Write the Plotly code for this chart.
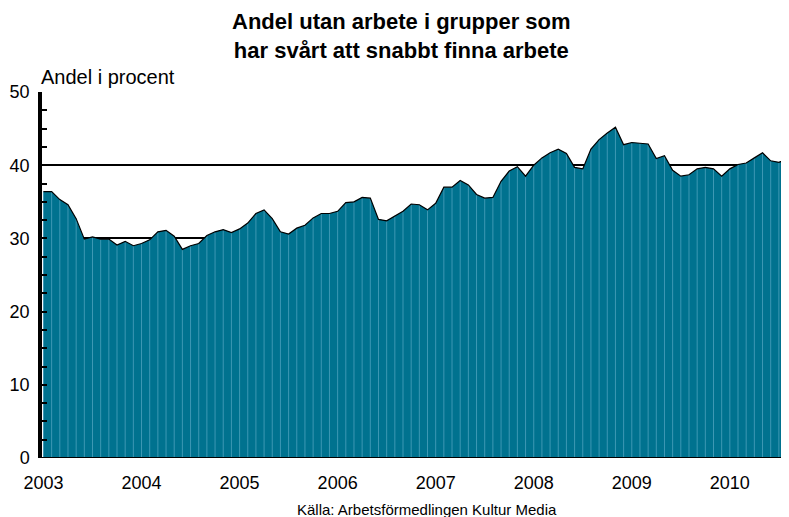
import plotly.graph_objects as go

# Monthly share (%), Jan 2003 - Aug 2010
values = [
    36.4, 36.4, 35.3, 34.6, 32.7, 29.9, 30.2, 29.9, 29.9, 29.1, 29.6, 29.0,
    29.3, 29.8, 30.9, 31.1, 30.3, 28.5, 29.0, 29.3, 30.4, 30.9, 31.2, 30.8,
    31.3, 32.1, 33.4, 33.9, 32.7, 30.9, 30.6, 31.4, 31.8, 32.8, 33.4, 33.4,
    33.7, 34.9, 35.0, 35.6, 35.5, 32.6, 32.4, 33.1, 33.7, 34.7, 34.6, 33.9,
    34.8, 37.0, 37.0, 37.9, 37.3, 36.0, 35.5, 35.6, 37.8, 39.2, 39.8, 38.5,
    40.0, 41.0, 41.7, 42.2, 41.6, 39.7, 39.5, 42.2, 43.5, 44.4, 45.2, 42.8,
    43.1, 43.0, 42.9, 40.9, 41.3, 39.3, 38.5, 38.7, 39.5, 39.7, 39.5, 38.5,
    39.5, 40.1, 40.3, 41.0, 41.7, 40.6, 40.4, 40.8,
]
months = list(range(len(values)))
year_labels = ["2003", "2004", "2005", "2006", "2007", "2008", "2009", "2010"]
year_ticks = [12 * k for k in range(len(year_labels))]
y_ticks = [0, 10, 20, 30, 40, 50]

title_text = "Andel utan arbete i grupper som<br>har svårt att snabbt finna arbete"
y_title = "Andel i procent"
source = "Källa: Arbetsförmedlingen Kultur Media"

FILL = "#00728f"
STRIPE = "#3d98b4"
FONT = "Liberation Sans, Arial, sans-serif"

fig = go.Figure()
fig.add_trace(go.Scatter(
    x=months, y=values, mode="lines", fill="tozeroy",
    fillcolor=FILL, line=dict(width=0, color=FILL), hoverinfo="skip",
))
# light month separators inside the area
sx, sy = [], []
for m, v in zip(months, values):
    sx += [m, m, None]
    sy += [0, v, None]
fig.add_trace(go.Scatter(
    x=sx, y=sy, mode="lines", line=dict(width=1, color=STRIPE), hoverinfo="skip",
))
fig.add_trace(go.Scatter(
    x=months, y=values, mode="lines", line=dict(width=1.2, color="black"),
))

# The page body adds an 8px offset, so the figure is sized/margined to compensate.
fig.update_layout(
    width=781, height=509,
    margin=dict(l=34, r=0, t=84, b=59, autoexpand=False),
    paper_bgcolor="white", plot_bgcolor="white",
    showlegend=False,
    font=dict(family=FONT, size=18, color="black"),
    xaxis=dict(
        range=[-0.18, 91.24], tickvals=year_ticks, ticktext=year_labels,
        showgrid=False, zeroline=False, showline=False, ticks="",
        tickfont=dict(size=18), ticklabelstandoff=12, automargin=False,
    ),
    yaxis=dict(
        range=[0, 50], tickvals=y_ticks, showgrid=True, gridcolor="black", gridwidth=2,
        zeroline=False, showline=True, linecolor="black", linewidth=3.5,
        ticks="inside", ticklen=5, tickcolor="black", tickwidth=1.5,
        minor=dict(dtick=2.5, ticks="inside", ticklen=5, tickcolor="black", tickwidth=1.5, showgrid=False),
        tickfont=dict(size=18), ticklabelstandoff=5, automargin=False,
    ),
    annotations=[
        dict(text="<b>" + title_text + "</b>", xref="paper", yref="paper", x=0.4806, y=1,
             xanchor="center", yanchor="bottom", yshift=27, showarrow=False,
             font=dict(size=22), align="center"),
        dict(text=y_title, xref="paper", yref="paper", x=0, y=1, xanchor="left",
             yanchor="bottom", xshift=-3, yshift=2, showarrow=False, font=dict(size=20)),
        dict(text=source, xref="paper", yref="paper", x=0.516, y=0, xanchor="center",
             yanchor="top", yshift=-41, showarrow=False, font=dict(size=15)),
    ],
    shapes=[
        dict(type="line", xref="paper", yref="y", x0=0, x1=1, y0=0, y1=0,
             line=dict(color="black", width=2), layer="above"),
    ],
)

fig.write_html("out.html")
